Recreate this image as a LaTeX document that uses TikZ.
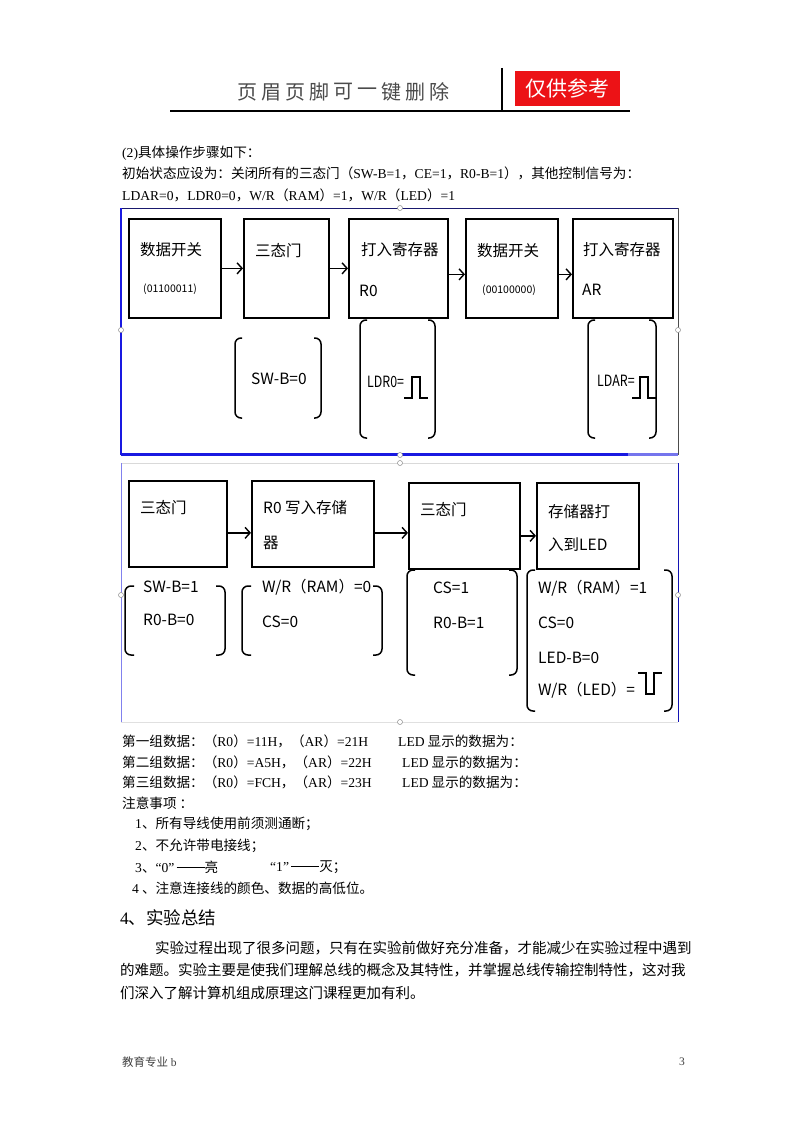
\documentclass[tikz,border=0pt]{standalone}
\usepackage{fontspec}
\usepackage{tikz}
\usetikzlibrary{arrows.meta}
\setmainfont{Noto Sans CJK SC}
\newfontfamily\latf{Liberation Serif}
\newcommand{\en}[1]{{\latf #1}}
\newcommand{\nar}[1]{\scalebox{0.8}[1]{#1}}
\newcommand{\dd}{\,\raisebox{0.33em}{\rule{28pt}{0.6pt}}}
\newcommand{\brkt}[5]{%
  \draw[line width=1.5pt,rounded corners=6pt] ({#1+#5},#3) -- (#1,#3) -- (#1,#4) -- ({#1+#5},#4);
  \draw[line width=1.5pt,rounded corners=6pt] ({#2-#5},#3) -- (#2,#3) -- (#2,#4) -- ({#2-#5},#4);}
\definecolor{frameblue}{RGB}{25,25,225}
\definecolor{navy}{RGB}{25,25,110}
\definecolor{hdrgray}{RGB}{75,75,75}
\definecolor{tagred}{RGB}{236,18,22}

\begin{document}
\begin{tikzpicture}[x=1pt,y=-1pt,
    body/.style={inner sep=0pt,anchor=west,font=\fontsize{13.6}{16}\selectfont},
    para/.style={inner sep=0pt,anchor=west,font=\fontsize{14.5}{17}\selectfont},
    lbl/.style={inner sep=0pt,anchor=west,font=\fontsize{15.5}{18}\selectfont},
    sml/.style={inner sep=0pt,anchor=west,font=\fontsize{10.5}{12}\selectfont},
    blk/.style={draw,line width=1.7pt,anchor=north west,inner sep=0pt},
    flow/.style={-{Straight Barb[length=5pt,width=11pt]},line width=1.4pt},
    hdl/.style={draw=black!45,fill=white,line width=0.5pt}]
  \fill[white] (0,0) rectangle (800,1132);
  \useasboundingbox (0,0) rectangle (800,1132);

  % page header
  \foreach \c [count=\i from 0] in {页,眉,页,脚,可,一,键,删,除}
    \node[inner sep=0pt,text=hdrgray,font=\fontsize{20}{22}\selectfont] at ({247+24*\i},92) {\c};
  \node[fill=tagred,text=white,anchor=north west,minimum width=105,minimum height=35,inner sep=0pt,
        font=\fontsize{21}{23}\selectfont] (tag) at (515,71) {仅供参考};
  \draw[line width=1.3pt] (170,111) -- (630,111);
  \draw[line width=1.5pt] (502,68) -- (502,111);

  \node[body] (step) at (122,153) {\en{(2)}具体操作步骤如下：};
  \node[body] (init) at (122,173) {初始状态应设为：关闭所有的三态门（\en{SW-B=1}，\en{CE=1}，\en{R0-B=1}），其他控制信号为：};
  \node[body] (ctrl) at (122,195) {\en{LDAR=0}，\en{LDR0=0}，\en{W/R}（\en{RAM}）\en{=1}，\en{W/R}（\en{LED}）\en{=1}};

  % first picture
  \draw[navy,line width=1pt] (121,208) -- (678,208);
  \draw[frameblue,line width=1.8pt] (121,208) -- (121,455);
  \draw[frameblue,line width=3pt] (121,454) -- (628,454);
  \draw[frameblue!60,line width=3pt] (628,454) -- (678,454);
  \draw[black!70,line width=0.8pt] (678,208) -- (678,455);

  \node[blk,minimum width=92,minimum height=99] (sw1) at (128,218) {};
  \node[blk,minimum width=85,minimum height=99] (tri1) at (243,218) {};
  \node[blk,minimum width=99,minimum height=99] (r0) at (348,218) {};
  \node[blk,minimum width=92,minimum height=99] (sw2) at (465,218) {};
  \node[blk,minimum width=100,minimum height=99] (ar) at (572,218) {};
  \path[flow] (sw1) edge (tri1) (tri1) edge (r0)
    ([yshift=-6pt]r0.east) edge ([yshift=-6pt]sw2.west)
    ([yshift=-6pt]sw2.east) edge ([yshift=-6pt]ar.west);

  \node[lbl] at (140,250) {数据开关};
  \node[sml] at (143,289) {(01100011)};
  \node[lbl] at (255,251) {三态门};
  \node[lbl] at (361,250) {打入寄存器};
  \node[lbl] at (359,291) {R0};
  \node[lbl] at (477,251) {数据开关};
  \node[sml] at (482,290) {(00100000)};
  \node[lbl] at (583,250) {打入寄存器};
  \node[lbl] at (582,290) {AR};

  \brkt{235}{321}{338}{418}{7}
  \brkt{360}{435}{320}{438}{7}
  \brkt{588}{656}{320}{438}{7}
  \node[lbl] at (251,379) {SW-B=0};
  \node[lbl] at (367,382) {\nar{LDR0=}};
  \node[lbl] at (597,381) {\nar{LDAR=}};
  \draw[line width=1.5pt] (404,398) -- (412,398) -- (412,377) -- (420,377) -- (420,398) -- (428,398);
  \draw[line width=1.5pt] (632,398) -- (640,398) -- (640,377) -- (648,377) -- (648,398) -- (656,398);

  % second picture
  \draw[black!15,line width=1pt] (121,463) -- (678,463);
  \draw[frameblue!55,line width=1pt] (121,463) -- (121,722);
  \draw[frameblue!80!black,line width=1pt] (678,463) -- (678,722);
  \draw[black!12,line width=1pt] (121,722) -- (678,722);

  \node[blk,minimum width=98,minimum height=86] (tri2) at (128,480) {};
  \node[blk,minimum width=122,minimum height=86] (mem) at (251,480) {};
  \node[blk,minimum width=111,minimum height=86] (tri3) at (408,482) {};
  \node[blk,minimum width=102,minimum height=86] (led) at (536,482) {};
  \path[flow] ([yshift=-9pt]tri2.east) edge ([yshift=-9pt]mem.west)
    ([yshift=-9pt]mem.east) edge ([yshift=-7pt]tri3.west)
    ([yshift=-10pt]tri3.east) edge ([yshift=-10pt]led.west);

  \node[lbl] at (140,508) {三态门};
  \node[lbl] at (263,508) {R0 写入存储};
  \node[lbl] at (263,543) {器};
  \node[lbl] at (420,510) {三态门};
  \node[lbl] at (548,512) {存储器打};
  \node[lbl] at (548,545) {入到LED};

  \brkt{125}{225}{586}{655}{9}
  \brkt{242}{382}{586}{655}{9}
  \brkt{407}{517}{570}{675}{8}
  \brkt{527}{672}{570}{711}{8}
  \node[lbl] at (143,587) {SW-B=1};
  \node[lbl] at (143,620) {R0-B=0};
  \node[lbl] at (262,587) {W/R（RAM）=0};
  \node[lbl] at (262,622) {CS=0};
  \node[lbl] at (433,588) {CS=1};
  \node[lbl] at (433,623) {R0-B=1};
  \node[lbl] at (538,588) {W/R（RAM）=1};
  \node[lbl] at (538,623) {CS=0};
  \node[lbl] at (538,658) {LED-B=0};
  \node[lbl] at (538,690) {W/R（LED）=};
  \draw[line width=1.5pt] (638,673) -- (646,673) -- (646,694) -- (654,694) -- (654,673) -- (662,673);

  % picture handles
  \foreach \p in {(121,330),(400,208),(678,330),(400,455),(121,595),(400,463),(678,595),(400,722)}
    \draw[hdl] \p circle (2.5pt);

  % results and notes
  \node[body] (d1) at (122,741) {第一组数据：（\en{R0}）\en{=11H}，（\en{AR}）\en{=21H}};
  \node[body] at (398,741) {\en{LED} 显示的数据为：};
  \node[body] (d2) at (122,762) {第二组数据：（\en{R0}）\en{=A5H}，（\en{AR}）\en{=22H}};
  \node[body] at (402,762) {\en{LED} 显示的数据为：};
  \node[body] (d3) at (122,782) {第三组数据：（\en{R0}）\en{=FCH}，（\en{AR}）\en{=23H}};
  \node[body] at (402,782) {\en{LED} 显示的数据为：};
  \node[body] (note) at (122,803) {注意事项 ：};
  \node[body] at (135,824) {\en{1}、所有导线使用前须测通断；};
  \node[body] at (135,846) {\en{2}、不允许带电接线；};
  \node[body] at (135,867) {\en{3}、\en{“0”}\dd 亮};
  \node[body] at (270,867) {\en{“1”}\dd 灭；};
  \node[body] at (132,888) {\en{4} 、注意连接线的颜色、数据的高低位。};

  \node[inner sep=0pt,anchor=west,font=\fontsize{17.5}{20}\selectfont] (sum) at (120,918) {\en{4}、实验总结};
  \node[para] at (155,948) {实验过程出现了很多问题，只有在实验前做好充分准备，才能减少在实验过程中遇到};
  \node[para] at (120,970) {的难题。实验主要是使我们理解总线的概念及其特性，并掌握总线传输控制特性，这对我};
  \node[para] at (120,993) {们深入了解计算机组成原理这门课程更加有利。};

  % footer
  \node[inner sep=0pt,anchor=west,text=black!75,font=\fontsize{11.5}{13}\selectfont] at (122,1062) {教育专业 \en{b}};
  \node[inner sep=0pt,anchor=west,text=black!75,font=\fontsize{11.5}{13}\selectfont] at (679,1062) {\en{3}};
\end{tikzpicture}
\end{document}
